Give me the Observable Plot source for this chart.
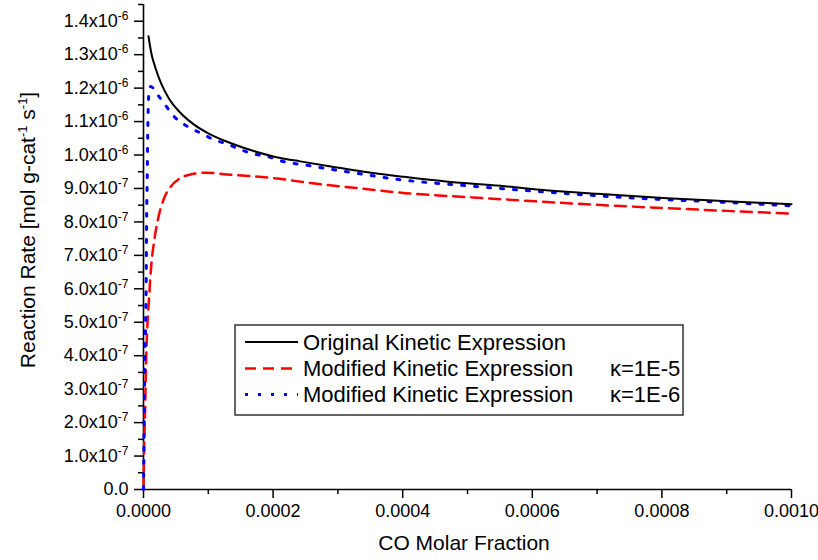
<!DOCTYPE html>
<html>
<head>
<meta charset="utf-8">
<script src="https://cdn.jsdelivr.net/npm/d3@7"></script>
<script src="https://cdn.jsdelivr.net/npm/@observablehq/plot@0.6"></script>
<style>
  html, body { margin: 0; padding: 0; background: #fff; }
  #chart { width: 818px; height: 560px; }
</style>
</head>
<body>
<div id="chart"></div>
<script>
// ---- Data (CO molar fraction vs. reaction rate, mol g-cat^-1 s^-1) ----
const xOriginal = [7.7e-6, 1.2e-5, 1.85e-5, 2.7e-5, 3.9e-5, 5.5e-5, 7.8e-5, 1.0e-4, 1.34e-4, 1.7e-4, 2.11e-4, 2.42e-4, 2.89e-4, 3.4e-4, 3.97e-4, 4.7e-4, 5.51e-4, 6.13e-4, 7.0e-4, 8.08e-4, 9.0e-4, 1.0e-3];
const rateOriginal = [13.55e-7, 13.05e-7, 12.60e-7, 12.15e-7, 11.70e-7, 11.30e-7, 10.91e-7, 10.65e-7, 10.36e-7, 10.12e-7, 9.91e-7, 9.81e-7, 9.66e-7, 9.50e-7, 9.36e-7, 9.20e-7, 9.08e-7, 8.96e-7, 8.84e-7, 8.71e-7, 8.62e-7, 8.53e-7];

const xK5 = [0, 1e-6, 2.5e-6, 4e-6, 6e-6, 8.5e-6, 1.2e-5, 1.7e-5, 2.2e-5, 3.1e-5, 4.2e-5, 5.7e-5, 7.5e-5, 9.5e-5, 1.34e-4, 2.01e-4, 2.58e-4, 3.3e-4, 4.04e-4, 5.09e-4, 6.1e-4, 7.0e-4, 8.08e-4, 9.0e-4, 1.0e-3];
const rateK5 = [0, 1.2e-7, 2.4e-7, 3.8e-7, 4.9e-7, 5.7e-7, 6.7e-7, 7.5e-7, 8.05e-7, 8.67e-7, 9.05e-7, 9.31e-7, 9.43e-7, 9.47e-7, 9.41e-7, 9.31e-7, 9.16e-7, 9.01e-7, 8.86e-7, 8.73e-7, 8.61e-7, 8.51e-7, 8.41e-7, 8.33e-7, 8.25e-7];

const xK6 = [0, 3e-7, 8e-7, 1.6e-6, 3.1e-6, 4.2e-6, 4.8e-6, 5.7e-6, 6.6e-6, 8.2e-6, 1.1e-5, 1.5e-5, 2.2e-5, 3.13e-5, 4.68e-5, 6.74e-5, 8.8e-5, 1.085e-4, 1.29e-4, 1.5e-4, 1.7e-4, 1.91e-4, 2.11e-4, 2.53e-4, 3.2e-4, 3.97e-4, 5.0e-4, 6.23e-4, 7.5e-4, 8.8e-4, 1.0e-3];
const rateK6 = [0, 0.5e-7, 1.6e-7, 3.2e-7, 4.8e-7, 6.3e-7, 8.0e-7, 9.2e-7, 10.7e-7, 11.8e-7, 12.05e-7, 12.0e-7, 11.8e-7, 11.56e-7, 11.16e-7, 10.86e-7, 10.66e-7, 10.46e-7, 10.33e-7, 10.16e-7, 10.03e-7, 9.96e-7, 9.83e-7, 9.69e-7, 9.48e-7, 9.26e-7, 9.08e-7, 8.89e-7, 8.72e-7, 8.60e-7, 8.48e-7];

const seriesNames = ["Original Kinetic Expression", "Modified Kinetic Expression", "Modified Kinetic Expression"];
const seriesKappa = ["", "κ=1E-5", "κ=1E-6"];

const xMajorTicks = [0, 0.0002, 0.0004, 0.0006, 0.0008, 0.001];
const xMajorLabels = ["0.0000", "0.0002", "0.0004", "0.0006", "0.0008", "0.0010"];
const xMinorTicks = [0.0001, 0.0003, 0.0005, 0.0007, 0.0009];
const yMajorTicks = [0, 1e-7, 2e-7, 3e-7, 4e-7, 5e-7, 6e-7, 7e-7, 8e-7, 9e-7, 1.0e-6, 1.1e-6, 1.2e-6, 1.3e-6, 1.4e-6];
const yMajorLabels = ["0.0", "1.0x10^-7", "2.0x10^-7", "3.0x10^-7", "4.0x10^-7", "5.0x10^-7", "6.0x10^-7", "7.0x10^-7", "8.0x10^-7", "9.0x10^-7", "1.0x10^-6", "1.1x10^-6", "1.2x10^-6", "1.3x10^-6", "1.4x10^-6"];
const yMinorTicks = [0.5e-7, 1.5e-7, 2.5e-7, 3.5e-7, 4.5e-7, 5.5e-7, 6.5e-7, 7.5e-7, 8.5e-7, 9.5e-7, 1.05e-6, 1.15e-6, 1.25e-6, 1.35e-6, 1.45e-6];

const xLabel = "CO Molar Fraction";

// ---- Build tables ----
const toRows = (xs, ys) => xs.map((x, i) => ({x, y: ys[i]}));
const dataOriginal = toRows(xOriginal, rateOriginal);
const dataK5 = toRows(xK5, rateK5);
const dataK6 = toRows(xK6, rateK6);

const fontFamily = "'Liberation Sans', Arial, Helvetica, sans-serif";

const chart = Plot.plot({
  width: 818,
  height: 560,
  marginLeft: 143,
  marginRight: 27,
  marginTop: 4,
  marginBottom: 71,
  style: {fontFamily, fontSize: "18px", background: "#fff", color: "#000"},
  x: {domain: [0, 0.001]},
  y: {domain: [0, 1.45e-6]},
  marks: [
    Plot.axisY({ticks: yMinorTicks, tickSize: 5, tickFormat: () => "", label: null, strokeWidth: 1.5}),
    Plot.axisY({ticks: yMajorTicks, tickSize: 9, tickPadding: 6, label: null, strokeWidth: 1.5,
      fontSize: 18, tickFormat: d => yMajorLabels[yMajorTicks.indexOf(d)]}),
    Plot.axisX({ticks: xMinorTicks, tickSize: 5, tickFormat: () => "", label: null, strokeWidth: 1.5}),
    Plot.axisX({ticks: xMajorTicks, tickSize: 9, tickPadding: 6, label: null, strokeWidth: 1.5,
      fontSize: 18, tickFormat: d => xMajorLabels[xMajorTicks.indexOf(d)]}),
    Plot.ruleX([0], {stroke: "#000", strokeWidth: 1.6}),
    Plot.ruleY([0], {stroke: "#000", strokeWidth: 1.6}),
    Plot.line(dataK5, {x: "x", y: "y", stroke: "#ff0000", strokeWidth: 2.5, strokeDasharray: "11,7", curve: "monotone-x"}),
    Plot.line(dataK6, {x: "x", y: "y", stroke: "#0000ff", strokeWidth: 3, strokeDasharray: "3,10", curve: "monotone-x"}),
    Plot.line(dataOriginal, {x: "x", y: "y", stroke: "#000", strokeWidth: 2, curve: "monotone-x"})
  ]
});

document.getElementById("chart").appendChild(chart);

// ---- Superscripts on y tick labels ----
const svg = d3.select(chart);
svg.selectAll('g[aria-label="y-axis tick label"] text').each(function() {
  const t = this.textContent;
  if (t.includes("^")) {
    const [base, sup] = t.split("^");
    const el = d3.select(this);
    el.text(null);
    el.append("tspan").text(base);
    el.append("tspan").attr("dy", "-7").attr("font-size", "12px").text(sup);
  }
});

// ---- Axis titles ----
svg.append("text")
  .attr("x", 464).attr("y", 550)
  .attr("text-anchor", "middle")
  .attr("font-family", fontFamily).attr("font-size", "21px").attr("fill", "#000")
  .text(xLabel);

const yl = svg.append("text")
  .attr("transform", "translate(35,230) rotate(-90)")
  .attr("text-anchor", "middle")
  .attr("font-family", fontFamily).attr("font-size", "21px").attr("fill", "#000");
yl.append("tspan").text("Reaction Rate [mol g-cat");
yl.append("tspan").attr("dy", "-8").attr("font-size", "13px").text("-1");
yl.append("tspan").attr("dy", "8").text(" s");
yl.append("tspan").attr("dy", "-8").attr("font-size", "13px").text("-1");
yl.append("tspan").attr("dy", "8").text("]");

// ---- Legend ----
const lg = svg.append("g").attr("text-anchor", "start");
lg.append("rect").attr("x", 235).attr("y", 325).attr("width", 448).attr("height", 90)
  .attr("fill", "#fff").attr("stroke", "#333").attr("stroke-width", 1.5);
const legendStyles = [
  {stroke: "#000", width: 2, dash: null},
  {stroke: "#ff0000", width: 2.5, dash: "11,7"},
  {stroke: "#0000ff", width: 3, dash: "3,10"}
];
const rowY = [342, 368.5, 394.5];
seriesNames.forEach((name, i) => {
  const s = legendStyles[i];
  const ln = lg.append("line").attr("x1", 245).attr("x2", 298).attr("y1", rowY[i]).attr("y2", rowY[i])
    .attr("stroke", s.stroke).attr("stroke-width", s.width);
  if (s.dash) ln.attr("stroke-dasharray", s.dash);
  lg.append("text").attr("x", 303).attr("y", rowY[i] + 7.5).attr("text-anchor", "start")
    .attr("font-family", fontFamily).attr("font-size", "22px").attr("fill", "#000").text(name);
  if (seriesKappa[i]) {
    lg.append("text").attr("x", 610).attr("y", rowY[i] + 7.5).attr("text-anchor", "start")
      .attr("font-family", fontFamily).attr("font-size", "22px").attr("fill", "#000").text(seriesKappa[i]);
  }
});
</script>
</body>
</html>
